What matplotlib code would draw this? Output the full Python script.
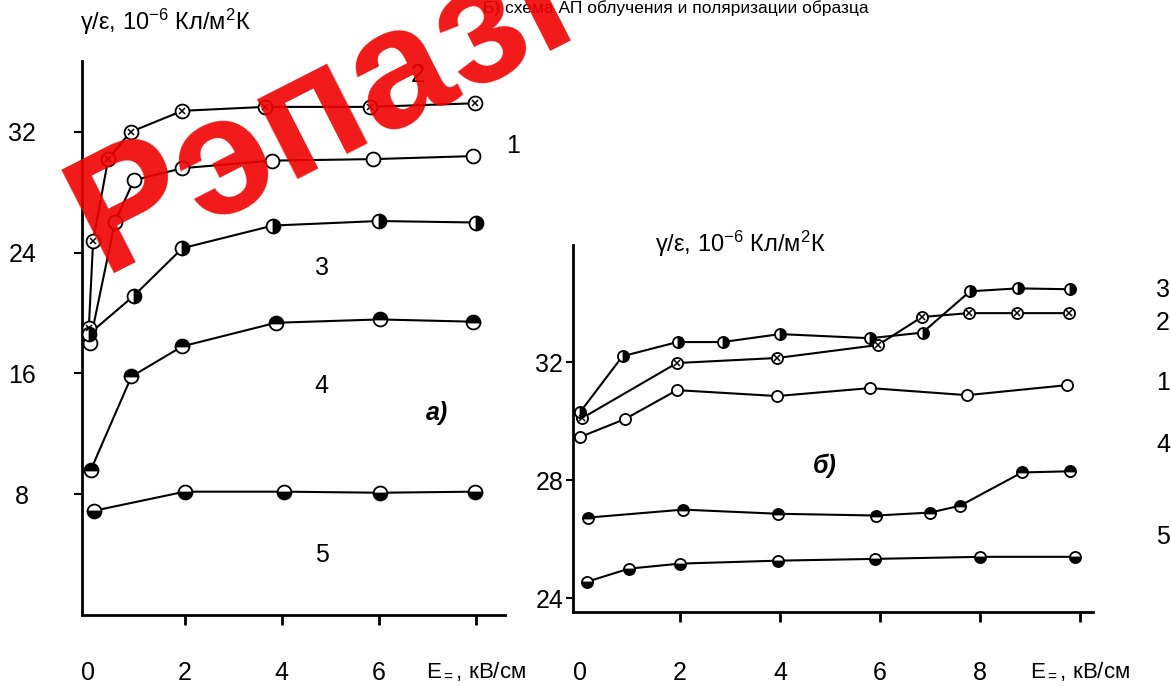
import matplotlib
matplotlib.use('Agg')
import matplotlib.pyplot as plt
from matplotlib import font_manager

names = {f.name for f in font_manager.fontManager.ttflist}
NARROW = 'Liberation Sans Narrow' if 'Liberation Sans Narrow' in names else 'Liberation Sans'
FAM = [NARROW, 'Liberation Sans', 'DejaVu Sans']
plt.rcParams['font.family'] = FAM
plt.rcParams['mathtext.fontset'] = 'custom'
plt.rcParams['mathtext.rm'] = NARROW
plt.rcParams['mathtext.it'] = NARROW
plt.rcParams['mathtext.bf'] = NARROW

# ---------------- data: panel a ----------------
a_x1 = [0.04, 0.56, 0.95, 1.95, 3.79, 5.88, 7.94]
a_y1 = [18.0, 26.05, 28.8, 29.6, 30.1, 30.2, 30.4]
a_x2 = [0.02, 0.11, 0.42, 0.88, 1.95, 3.65, 5.81, 7.98]
a_y2 = [19.0, 24.8, 30.2, 32.0, 33.4, 33.66, 33.66, 33.9]
a_x3 = [0.02, 0.95, 1.95, 3.82, 6.0, 8.01]
a_y3 = [18.6, 21.15, 24.3, 25.8, 26.1, 26.0]
a_x4 = [0.06, 0.9, 1.95, 3.88, 6.02, 7.94]
a_y4 = [9.6, 15.8, 17.8, 19.36, 19.58, 19.43]
a_x5 = [0.12, 2.0, 4.04, 6.02, 7.98]
a_y5 = [6.9, 8.17, 8.17, 8.1, 8.17]

# ---------------- data: panel b ----------------
b_x1 = [0.0, 0.9, 1.94, 3.94, 5.8, 7.74, 9.74]
b_y1 = [29.46, 30.07, 31.05, 30.85, 31.12, 30.88, 31.22]
b_x2 = [0.04, 1.94, 3.94, 5.96, 6.84, 7.77, 8.73, 9.77]
b_y2 = [30.1, 31.97, 32.14, 32.58, 33.53, 33.66, 33.66, 33.66]
b_x3 = [0.0, 0.85, 1.95, 2.85, 4.0, 5.8, 6.85, 7.8, 8.75, 9.8]
b_y3 = [30.3, 32.2, 32.68, 32.68, 32.95, 32.81, 33.0, 34.4, 34.5, 34.47]
b_x4 = [0.16, 2.06, 3.96, 5.92, 7.0, 7.6, 8.84, 9.8]
b_y4 = [26.73, 27.0, 26.86, 26.8, 26.9, 27.13, 28.26, 28.3]
b_x5 = [0.13, 0.98, 2.0, 3.95, 5.9, 8.0, 9.9]
b_y5 = [24.55, 25.0, 25.17, 25.27, 25.33, 25.4, 25.4]

a_xticks = [0, 2, 4, 6, 8]
b_xticks = [0, 2, 4, 6, 8, 10]
a_yticks = [8, 16, 24, 32]
b_yticks = [24, 28, 32]
xlabel = r'E$_{=}$, кВ/см'
ylabel = r'γ/ε, 10$^{-6}$ Кл/м$^{2}$К'
title_text = 'Б) схема АП облучения и поляризации образца'

W, H = 1171, 686
fig = plt.figure(figsize=(W / 100, H / 100), dpi=100)
fig.patch.set_facecolor('white')


def px_rect(l, t, r, b):
    return [l / W, 1 - b / H, (r - l) / W, (b - t) / H]


axA = fig.add_axes(px_rect(82, 61, 505, 615))
axB = fig.add_axes(px_rect(573, 245, 1093, 612))

LW = 1.5
FS = 18


def series(ax, x, y, kind, ms):
    ax.plot(x, y, '-', color='black', lw=LW, zorder=2)
    common = dict(ls='none', marker='o', ms=ms, mec='black', mew=1.3, zorder=3)
    if kind == 'open':
        ax.plot(x, y, mfc='white', **common)
    elif kind == 'cross':
        ax.plot(x, y, mfc='white', **common)
        ax.plot(x, y, ls='none', marker='x', ms=ms * 0.5, mec='black', mew=1.1, zorder=4)
    else:
        ax.plot(x, y, fillstyle=kind, mfc='black', markerfacecoloralt='white', **common)


for ax in (axA, axB):
    for s in ('top', 'right'):
        ax.spines[s].set_visible(False)
    for s in ('left', 'bottom'):
        ax.spines[s].set_linewidth(2.0)
    ax.set_facecolor('none')

# panel a
series(axA, a_x1, a_y1, 'open', 10)
series(axA, a_x2, a_y2, 'cross', 10)
series(axA, a_x3, a_y3, 'right', 10)
series(axA, a_x4, a_y4, 'top', 10)
series(axA, a_x5, a_y5, 'bottom', 10)
axA.set_xlim(-0.12, 8.6)
axA.set_ylim(0, 36.7)
axA.set_xticks(a_xticks)
axA.set_xticklabels(['0', '2', '4', '6', xlabel])
axA.set_yticks(a_yticks)
axA.set_yticklabels([str(v) for v in a_yticks])
axA.tick_params(axis='x', direction='out', length=7, width=2, pad=26, labelsize=FS)
axA.tick_params(axis='y', direction='out', length=6, width=1.5, pad=37, labelsize=FS)
for lab in axA.get_yticklabels():
    lab.set_horizontalalignment('center')
axA.get_xticklabels()[-1].set_fontsize(16)
axA.xaxis.get_major_ticks()[0].tick1line.set_visible(False)

# panel b
series(axB, b_x1, b_y1, 'open', 8)
series(axB, b_x2, b_y2, 'cross', 8)
series(axB, b_x3, b_y3, 'right', 8)
series(axB, b_x4, b_y4, 'top', 8)
series(axB, b_x5, b_y5, 'bottom', 8)
axB.set_xlim(-0.14, 10.26)
axB.set_ylim(23.53, 35.97)
axB.set_xticks(b_xticks)
axB.set_xticklabels(['0', '2', '4', '6', '8', xlabel])
axB.set_yticks(b_yticks)
axB.set_yticklabels([str(v) for v in b_yticks])
axB.tick_params(axis='x', direction='out', length=7, width=2, pad=28, labelsize=FS)
axB.tick_params(axis='y', direction='out', length=5, width=1.5, pad=2, labelsize=FS)
axB.get_xticklabels()[-1].set_fontsize(16)
axB.xaxis.get_major_ticks()[0].tick1line.set_visible(False)

# axis titles
axA.text(1.59, 39.3, ylabel, fontsize=17, ha='center', va='center', clip_on=False)
axB.text(3.2, 36.0, ylabel, fontsize=17, ha='center', va='center', clip_on=False)

# curve numbers
for lbl, x, y in [('2', 6.8, 35.76), ('1', 8.76, 31.1), ('3', 4.82, 23.0),
                  ('4', 4.82, 15.2), ('5', 4.82, 3.97)]:
    axA.text(x, y, lbl, fontsize=FS, ha='center', va='center', clip_on=False)
for lbl, x, y in [('3', 11.66, 34.44), ('2', 11.66, 33.32), ('1', 11.66, 31.29),
                  ('4', 11.66, 29.19), ('5', 11.66, 26.07)]:
    axB.text(x, y, lbl, fontsize=FS, ha='center', va='center', clip_on=False)

axA.text(7.2, 13.4, 'а)', fontsize=FS, ha='center', va='center',
         fontweight='bold', fontstyle='italic', family=['Liberation Sans', 'DejaVu Sans'])
axB.text(4.9, 28.5, 'б)', fontsize=FS, ha='center', va='center',
         fontweight='bold', fontstyle='italic', family=['Liberation Sans', 'DejaVu Sans'])

# caption at the top edge (kept inside the picture)
fig.text(676 / W, 1 - 13 / H, title_text, fontsize=12.5, ha='center', va='baseline')

# repository watermark
fig.text(322 / W, 1 - 112 / H, 'Рэпазі', fontsize=122, fontweight='bold',
         family=['Liberation Sans', 'DejaVu Sans'], color='#f00000', alpha=0.9,
         rotation=27, ha='center', va='center', rotation_mode='anchor', zorder=10)

fig.savefig('out.png', dpi=100, facecolor='white')
